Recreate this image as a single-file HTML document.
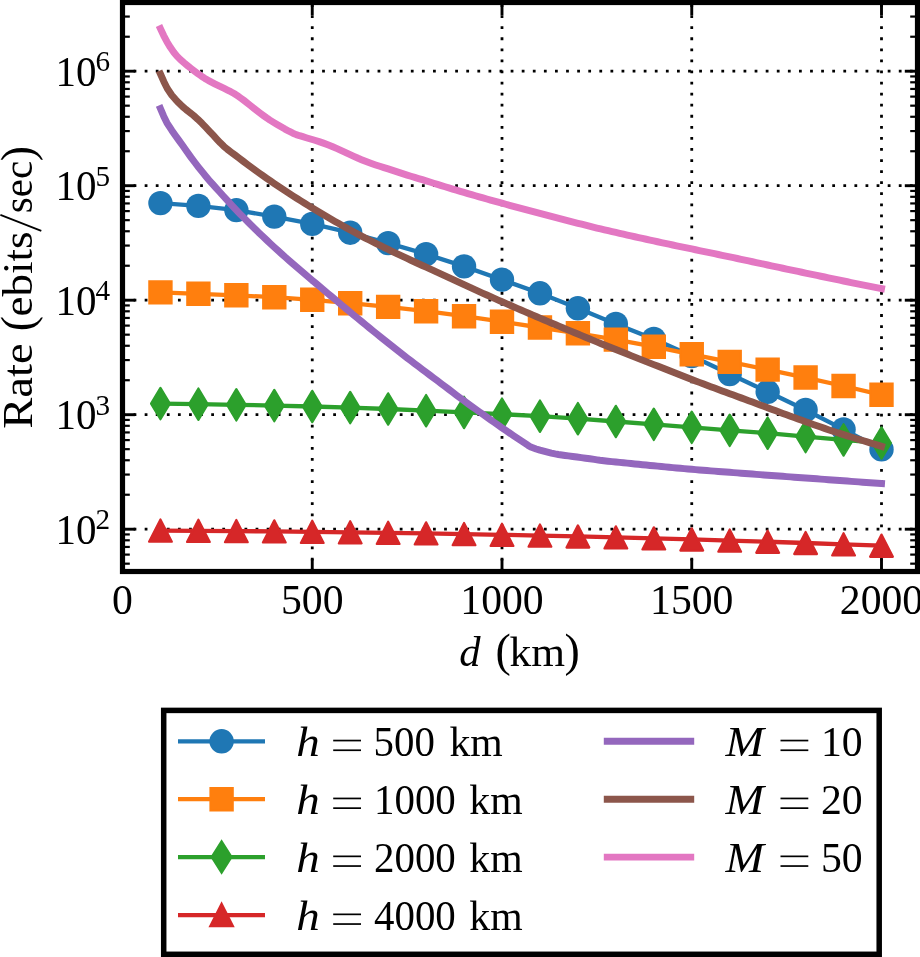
<!DOCTYPE html>
<html><head><meta charset="utf-8"><title>Rate vs distance</title>
<style>html,body{margin:0;padding:0;background:#fff;}svg{display:block;}text{font-family:"Liberation Serif",serif;fill:#000;}</style></head><body>
<svg width="920" height="957" viewBox="0 0 920 957">
<rect width="920" height="957" fill="#fff"/>
<g stroke="#000" stroke-width="2.78" stroke-dasharray="2.77 8.32" fill="none">
<line x1="312.25" y1="571.5" x2="312.25" y2="2.5" stroke-dasharray="2.77 8.30"/>
<line x1="502" y1="571.5" x2="502" y2="2.5" stroke-dasharray="2.77 8.30"/>
<line x1="691.75" y1="571.5" x2="691.75" y2="2.5" stroke-dasharray="2.77 8.30"/>
<line x1="881.5" y1="571.5" x2="881.5" y2="2.5" stroke-dasharray="2.77 8.30"/>
<line x1="122.5" y1="529.2" x2="917.5" y2="529.2"/>
<line x1="122.5" y1="414.7" x2="917.5" y2="414.7"/>
<line x1="122.5" y1="300.2" x2="917.5" y2="300.2"/>
<line x1="122.5" y1="185.7" x2="917.5" y2="185.7"/>
<line x1="122.5" y1="71.2" x2="917.5" y2="71.2"/>
</g>
<defs><clipPath id="ax"><rect x="122.5" y="2.5" width="795" height="569"/></clipPath></defs>
<g clip-path="url(#ax)">
<polyline points="160.45,203.1 198.4,205.9 236.35,210.1 274.3,216.6 312.25,223.9 350.2,232.7 388.15,243.1 426.1,254.1 464.05,266.4 502,279.7 539.95,293.3 577.9,308.3 615.85,323.9 653.8,339 691.75,356 729.7,374 767.65,391.8 805.6,410 843.55,429.4 881.5,449.4" fill="none" stroke="#1f77b4" stroke-width="4.3" stroke-linecap="butt" stroke-linejoin="round"/>
<circle cx="160.45" cy="203.1" r="12.2" fill="#1f77b4"/>
<circle cx="198.4" cy="205.9" r="12.2" fill="#1f77b4"/>
<circle cx="236.35" cy="210.1" r="12.2" fill="#1f77b4"/>
<circle cx="274.3" cy="216.6" r="12.2" fill="#1f77b4"/>
<circle cx="312.25" cy="223.9" r="12.2" fill="#1f77b4"/>
<circle cx="350.2" cy="232.7" r="12.2" fill="#1f77b4"/>
<circle cx="388.15" cy="243.1" r="12.2" fill="#1f77b4"/>
<circle cx="426.1" cy="254.1" r="12.2" fill="#1f77b4"/>
<circle cx="464.05" cy="266.4" r="12.2" fill="#1f77b4"/>
<circle cx="502" cy="279.7" r="12.2" fill="#1f77b4"/>
<circle cx="539.95" cy="293.3" r="12.2" fill="#1f77b4"/>
<circle cx="577.9" cy="308.3" r="12.2" fill="#1f77b4"/>
<circle cx="615.85" cy="323.9" r="12.2" fill="#1f77b4"/>
<circle cx="653.8" cy="339" r="12.2" fill="#1f77b4"/>
<circle cx="691.75" cy="356" r="12.2" fill="#1f77b4"/>
<circle cx="729.7" cy="374" r="12.2" fill="#1f77b4"/>
<circle cx="767.65" cy="391.8" r="12.2" fill="#1f77b4"/>
<circle cx="805.6" cy="410" r="12.2" fill="#1f77b4"/>
<circle cx="843.55" cy="429.4" r="12.2" fill="#1f77b4"/>
<circle cx="881.5" cy="449.4" r="12.2" fill="#1f77b4"/>
<polyline points="160.45,292.4 198.4,293.8 236.35,295.3 274.3,297.2 312.25,299.8 350.2,303.2 388.15,306.9 426.1,311.2 464.05,316.2 502,321.7 539.95,327.5 577.9,333.3 615.85,339.6 653.8,346.7 691.75,354.3 729.7,361.9 767.65,369.65 805.6,377.55 843.55,386 881.5,394.8" fill="none" stroke="#ff7f0e" stroke-width="4.3" stroke-linecap="butt" stroke-linejoin="round"/>
<polygon points="149.35,281.3 171.55,281.3 171.55,303.5 149.35,303.5" fill="#ff7f0e" stroke="#ff7f0e" stroke-width="2.2" stroke-linejoin="miter"/>
<polygon points="187.3,282.7 209.5,282.7 209.5,304.9 187.3,304.9" fill="#ff7f0e" stroke="#ff7f0e" stroke-width="2.2" stroke-linejoin="miter"/>
<polygon points="225.25,284.2 247.45,284.2 247.45,306.4 225.25,306.4" fill="#ff7f0e" stroke="#ff7f0e" stroke-width="2.2" stroke-linejoin="miter"/>
<polygon points="263.2,286.1 285.4,286.1 285.4,308.3 263.2,308.3" fill="#ff7f0e" stroke="#ff7f0e" stroke-width="2.2" stroke-linejoin="miter"/>
<polygon points="301.15,288.7 323.35,288.7 323.35,310.9 301.15,310.9" fill="#ff7f0e" stroke="#ff7f0e" stroke-width="2.2" stroke-linejoin="miter"/>
<polygon points="339.1,292.1 361.3,292.1 361.3,314.3 339.1,314.3" fill="#ff7f0e" stroke="#ff7f0e" stroke-width="2.2" stroke-linejoin="miter"/>
<polygon points="377.05,295.8 399.25,295.8 399.25,318 377.05,318" fill="#ff7f0e" stroke="#ff7f0e" stroke-width="2.2" stroke-linejoin="miter"/>
<polygon points="415,300.1 437.2,300.1 437.2,322.3 415,322.3" fill="#ff7f0e" stroke="#ff7f0e" stroke-width="2.2" stroke-linejoin="miter"/>
<polygon points="452.95,305.1 475.15,305.1 475.15,327.3 452.95,327.3" fill="#ff7f0e" stroke="#ff7f0e" stroke-width="2.2" stroke-linejoin="miter"/>
<polygon points="490.9,310.6 513.1,310.6 513.1,332.8 490.9,332.8" fill="#ff7f0e" stroke="#ff7f0e" stroke-width="2.2" stroke-linejoin="miter"/>
<polygon points="528.85,316.4 551.05,316.4 551.05,338.6 528.85,338.6" fill="#ff7f0e" stroke="#ff7f0e" stroke-width="2.2" stroke-linejoin="miter"/>
<polygon points="566.8,322.2 589,322.2 589,344.4 566.8,344.4" fill="#ff7f0e" stroke="#ff7f0e" stroke-width="2.2" stroke-linejoin="miter"/>
<polygon points="604.75,328.5 626.95,328.5 626.95,350.7 604.75,350.7" fill="#ff7f0e" stroke="#ff7f0e" stroke-width="2.2" stroke-linejoin="miter"/>
<polygon points="642.7,335.6 664.9,335.6 664.9,357.8 642.7,357.8" fill="#ff7f0e" stroke="#ff7f0e" stroke-width="2.2" stroke-linejoin="miter"/>
<polygon points="680.65,343.2 702.85,343.2 702.85,365.4 680.65,365.4" fill="#ff7f0e" stroke="#ff7f0e" stroke-width="2.2" stroke-linejoin="miter"/>
<polygon points="718.6,350.8 740.8,350.8 740.8,373 718.6,373" fill="#ff7f0e" stroke="#ff7f0e" stroke-width="2.2" stroke-linejoin="miter"/>
<polygon points="756.55,358.55 778.75,358.55 778.75,380.75 756.55,380.75" fill="#ff7f0e" stroke="#ff7f0e" stroke-width="2.2" stroke-linejoin="miter"/>
<polygon points="794.5,366.45 816.7,366.45 816.7,388.65 794.5,388.65" fill="#ff7f0e" stroke="#ff7f0e" stroke-width="2.2" stroke-linejoin="miter"/>
<polygon points="832.45,374.9 854.65,374.9 854.65,397.1 832.45,397.1" fill="#ff7f0e" stroke="#ff7f0e" stroke-width="2.2" stroke-linejoin="miter"/>
<polygon points="870.4,383.7 892.6,383.7 892.6,405.9 870.4,405.9" fill="#ff7f0e" stroke="#ff7f0e" stroke-width="2.2" stroke-linejoin="miter"/>
<polyline points="160.45,403.6 198.4,404.2 236.35,404.8 274.3,405.6 312.25,406.5 350.2,407.6 388.15,409 426.1,410.7 464.05,412.4 502,414.2 539.95,416.2 577.9,418.7 615.85,421.5 653.8,424.3 691.75,427.3 729.7,430.3 767.65,433.2 805.6,436.55 843.55,439.9 881.5,443" fill="none" stroke="#2ca02c" stroke-width="4.3" stroke-linecap="butt" stroke-linejoin="round"/>
<polygon points="160.45,387.9 169.87,403.6 160.45,419.3 151.03,403.6" fill="#2ca02c" stroke="#2ca02c" stroke-width="2.2" stroke-linejoin="round"/>
<polygon points="198.4,388.5 207.82,404.2 198.4,419.9 188.98,404.2" fill="#2ca02c" stroke="#2ca02c" stroke-width="2.2" stroke-linejoin="round"/>
<polygon points="236.35,389.1 245.77,404.8 236.35,420.5 226.93,404.8" fill="#2ca02c" stroke="#2ca02c" stroke-width="2.2" stroke-linejoin="round"/>
<polygon points="274.3,389.9 283.72,405.6 274.3,421.3 264.88,405.6" fill="#2ca02c" stroke="#2ca02c" stroke-width="2.2" stroke-linejoin="round"/>
<polygon points="312.25,390.8 321.67,406.5 312.25,422.2 302.83,406.5" fill="#2ca02c" stroke="#2ca02c" stroke-width="2.2" stroke-linejoin="round"/>
<polygon points="350.2,391.9 359.62,407.6 350.2,423.3 340.78,407.6" fill="#2ca02c" stroke="#2ca02c" stroke-width="2.2" stroke-linejoin="round"/>
<polygon points="388.15,393.3 397.57,409 388.15,424.7 378.73,409" fill="#2ca02c" stroke="#2ca02c" stroke-width="2.2" stroke-linejoin="round"/>
<polygon points="426.1,395 435.52,410.7 426.1,426.4 416.68,410.7" fill="#2ca02c" stroke="#2ca02c" stroke-width="2.2" stroke-linejoin="round"/>
<polygon points="464.05,396.7 473.47,412.4 464.05,428.1 454.63,412.4" fill="#2ca02c" stroke="#2ca02c" stroke-width="2.2" stroke-linejoin="round"/>
<polygon points="502,398.5 511.42,414.2 502,429.9 492.58,414.2" fill="#2ca02c" stroke="#2ca02c" stroke-width="2.2" stroke-linejoin="round"/>
<polygon points="539.95,400.5 549.37,416.2 539.95,431.9 530.53,416.2" fill="#2ca02c" stroke="#2ca02c" stroke-width="2.2" stroke-linejoin="round"/>
<polygon points="577.9,403 587.32,418.7 577.9,434.4 568.48,418.7" fill="#2ca02c" stroke="#2ca02c" stroke-width="2.2" stroke-linejoin="round"/>
<polygon points="615.85,405.8 625.27,421.5 615.85,437.2 606.43,421.5" fill="#2ca02c" stroke="#2ca02c" stroke-width="2.2" stroke-linejoin="round"/>
<polygon points="653.8,408.6 663.22,424.3 653.8,440 644.38,424.3" fill="#2ca02c" stroke="#2ca02c" stroke-width="2.2" stroke-linejoin="round"/>
<polygon points="691.75,411.6 701.17,427.3 691.75,443 682.33,427.3" fill="#2ca02c" stroke="#2ca02c" stroke-width="2.2" stroke-linejoin="round"/>
<polygon points="729.7,414.6 739.12,430.3 729.7,446 720.28,430.3" fill="#2ca02c" stroke="#2ca02c" stroke-width="2.2" stroke-linejoin="round"/>
<polygon points="767.65,417.5 777.07,433.2 767.65,448.9 758.23,433.2" fill="#2ca02c" stroke="#2ca02c" stroke-width="2.2" stroke-linejoin="round"/>
<polygon points="805.6,420.85 815.02,436.55 805.6,452.25 796.18,436.55" fill="#2ca02c" stroke="#2ca02c" stroke-width="2.2" stroke-linejoin="round"/>
<polygon points="843.55,424.2 852.97,439.9 843.55,455.6 834.13,439.9" fill="#2ca02c" stroke="#2ca02c" stroke-width="2.2" stroke-linejoin="round"/>
<polygon points="881.5,427.3 890.92,443 881.5,458.7 872.08,443" fill="#2ca02c" stroke="#2ca02c" stroke-width="2.2" stroke-linejoin="round"/>
<polyline points="160.45,530.59 198.4,530.8 236.35,531.08 274.3,531.42 312.25,531.82 350.2,532.29 388.15,532.82 426.1,533.42 464.05,534.09 502,534.81 539.95,535.61 577.9,536.47 615.85,537.39 653.8,538.38 691.75,539.44 729.7,540.56 767.65,541.75 805.6,543 843.55,544.31 881.5,545.69" fill="none" stroke="#d62728" stroke-width="4.3" stroke-linecap="butt" stroke-linejoin="round"/>
<polygon points="160.45,519.49 171.85,541.69 149.05,541.69" fill="#d62728" stroke="#d62728" stroke-width="2.2" stroke-linejoin="round"/>
<polygon points="198.4,519.7 209.8,541.9 187,541.9" fill="#d62728" stroke="#d62728" stroke-width="2.2" stroke-linejoin="round"/>
<polygon points="236.35,519.98 247.75,542.18 224.95,542.18" fill="#d62728" stroke="#d62728" stroke-width="2.2" stroke-linejoin="round"/>
<polygon points="274.3,520.32 285.7,542.52 262.9,542.52" fill="#d62728" stroke="#d62728" stroke-width="2.2" stroke-linejoin="round"/>
<polygon points="312.25,520.72 323.65,542.92 300.85,542.92" fill="#d62728" stroke="#d62728" stroke-width="2.2" stroke-linejoin="round"/>
<polygon points="350.2,521.19 361.6,543.39 338.8,543.39" fill="#d62728" stroke="#d62728" stroke-width="2.2" stroke-linejoin="round"/>
<polygon points="388.15,521.72 399.55,543.92 376.75,543.92" fill="#d62728" stroke="#d62728" stroke-width="2.2" stroke-linejoin="round"/>
<polygon points="426.1,522.32 437.5,544.52 414.7,544.52" fill="#d62728" stroke="#d62728" stroke-width="2.2" stroke-linejoin="round"/>
<polygon points="464.05,522.99 475.45,545.19 452.65,545.19" fill="#d62728" stroke="#d62728" stroke-width="2.2" stroke-linejoin="round"/>
<polygon points="502,523.71 513.4,545.91 490.6,545.91" fill="#d62728" stroke="#d62728" stroke-width="2.2" stroke-linejoin="round"/>
<polygon points="539.95,524.51 551.35,546.71 528.55,546.71" fill="#d62728" stroke="#d62728" stroke-width="2.2" stroke-linejoin="round"/>
<polygon points="577.9,525.37 589.3,547.57 566.5,547.57" fill="#d62728" stroke="#d62728" stroke-width="2.2" stroke-linejoin="round"/>
<polygon points="615.85,526.29 627.25,548.49 604.45,548.49" fill="#d62728" stroke="#d62728" stroke-width="2.2" stroke-linejoin="round"/>
<polygon points="653.8,527.28 665.2,549.48 642.4,549.48" fill="#d62728" stroke="#d62728" stroke-width="2.2" stroke-linejoin="round"/>
<polygon points="691.75,528.34 703.15,550.54 680.35,550.54" fill="#d62728" stroke="#d62728" stroke-width="2.2" stroke-linejoin="round"/>
<polygon points="729.7,529.46 741.1,551.66 718.3,551.66" fill="#d62728" stroke="#d62728" stroke-width="2.2" stroke-linejoin="round"/>
<polygon points="767.65,530.65 779.05,552.85 756.25,552.85" fill="#d62728" stroke="#d62728" stroke-width="2.2" stroke-linejoin="round"/>
<polygon points="805.6,531.9 817,554.1 794.2,554.1" fill="#d62728" stroke="#d62728" stroke-width="2.2" stroke-linejoin="round"/>
<polygon points="843.55,533.21 854.95,555.41 832.15,555.41" fill="#d62728" stroke="#d62728" stroke-width="2.2" stroke-linejoin="round"/>
<polygon points="881.5,534.59 892.9,556.79 870.1,556.79" fill="#d62728" stroke="#d62728" stroke-width="2.2" stroke-linejoin="round"/>
<polyline points="160.45,108.6 163.68,116.16 166.9,122.8 171.84,130.4 175.38,135.43 178.92,140.36 182.46,145.3 186.83,151.54 191.19,157.6 194.89,162.48 198.59,167.27 202.29,171.95 205.99,176.5 209.31,180.41 212.63,184.17 215.95,187.84 219.27,191.5 223.54,196.22 227.81,200.92 232.08,205.56 236.35,210.1 240.14,214.04 243.94,217.92 247.74,221.75 251.53,225.53 255.32,229.26 259.12,232.94 262.91,236.56 266.71,240.14 270.5,243.68 274.3,247.19 278.1,250.66 281.89,254.09 285.69,257.49 289.48,260.86 293.27,264.19 297.07,267.47 300.87,270.71 304.66,273.92 308.46,277.11 312.25,280.31 316.05,283.52 319.84,286.71 323.63,289.9 327.43,293.09 331.23,296.27 335.02,299.46 338.81,302.65 342.61,305.84 346.4,309.01 350.2,312.17 354,315.31 357.79,318.44 361.59,321.55 365.38,324.65 369.18,327.75 372.97,330.83 376.76,333.91 380.56,336.97 384.36,340.01 388.15,343.04 391.94,346.05 395.74,349.05 399.54,352.03 403.33,354.99 407.12,357.92 410.92,360.83 414.71,363.7 418.51,366.56 422.31,369.41 426.1,372.27 429.89,375.13 433.69,377.98 437.49,380.83 441.28,383.68 445.07,386.54 448.87,389.4 452.67,392.28 456.46,395.16 460.25,398.01 464.05,400.82 467.85,403.59 471.64,406.31 475.44,409.02 479.23,411.71 483.02,414.4 486.82,417.1 490.62,419.8 494.41,422.49 498.2,425.16 502,427.83 505.8,430.44 509.59,433 513.38,435.53 517.18,438.05 520.98,440.58 524.77,443.1 527.81,445.21 530.84,447.1 536.15,449 539.95,450.16 543.75,451.2 547.54,452.17 551.34,453.1 555.13,453.9 558.45,454.48 561.77,454.98 565.09,455.44 568.41,455.9 572.71,456.48 577.01,457.04 581.32,457.6 585.62,458.19 589.92,458.79 594.22,459.4 597.06,459.87 599.91,460.3 603.9,460.76 607.88,461.19 611.87,461.6 615.85,462 619.64,462.39 623.44,462.77 627.24,463.16 631.03,463.54 634.83,463.93 638.62,464.31 642.41,464.69 646.21,465.06 650,465.43 653.8,465.8 657.6,466.16 661.39,466.53 665.19,466.89 668.98,467.25 672.77,467.6 676.57,467.95 680.37,468.3 684.16,468.64 687.96,468.97 691.75,469.3 695.54,469.62 699.34,469.93 703.13,470.24 706.93,470.54 710.73,470.84 714.52,471.13 718.32,471.42 722.11,471.71 725.9,472.01 729.7,472.3 733.5,472.59 737.29,472.89 741.09,473.18 744.88,473.47 748.67,473.76 752.47,474.05 756.26,474.34 760.06,474.63 763.86,474.91 767.65,475.2 771.45,475.48 775.24,475.77 779.03,476.05 782.83,476.33 786.62,476.61 790.42,476.88 794.22,477.16 798.01,477.44 801.81,477.72 805.6,478 809.39,478.28 813.19,478.56 816.99,478.84 820.78,479.12 824.58,479.41 828.37,479.69 832.16,479.97 835.96,480.25 839.75,480.52 843.55,480.8 847.35,481.07 851.14,481.35 854.94,481.62 858.73,481.89 862.52,482.16 866.32,482.42 870.12,482.69 873.91,482.96 877.71,483.23 881.5,483.5" fill="none" stroke="#9467bd" stroke-width="6.95" stroke-linecap="square" stroke-linejoin="round"/>
<polyline points="160.45,74 163.87,81.69 167.28,88.5 171.84,95.2 175.38,99.26 178.92,103.03 182.46,106.5 186.13,109.62 189.8,112.44 193.47,115.4 197.83,119.35 202.19,123.6 205.86,127.39 209.53,131.3 213.2,135.2 216.74,139.01 220.28,142.81 223.83,146.3 227.5,149.39 231.16,152.17 234.83,154.9 238.93,158.02 243.03,161.14 247.13,164.23 251.23,167.29 255.32,170.29 259.12,173.02 262.91,175.7 266.71,178.35 270.5,180.96 274.3,183.55 278.1,186.11 281.89,188.64 285.69,191.15 289.48,193.62 293.27,196.07 297.07,198.49 300.87,200.89 304.66,203.26 308.46,205.6 312.25,207.93 316.05,210.23 319.84,212.52 323.63,214.78 327.43,217.02 331.23,219.24 335.02,221.43 338.81,223.6 342.61,225.75 346.4,227.87 350.2,229.96 354,232.03 357.79,234.07 361.59,236.08 365.38,238.07 369.18,240.03 372.97,241.96 376.76,243.86 380.56,245.73 384.36,247.58 388.15,249.43 391.94,251.26 395.74,253.08 399.54,254.89 403.33,256.68 407.12,258.46 410.92,260.23 414.71,261.99 418.51,263.73 422.31,265.47 426.1,267.21 429.89,268.95 433.69,270.68 437.49,272.4 441.28,274.13 445.07,275.87 448.87,277.63 452.67,279.39 456.46,281.15 460.25,282.91 464.05,284.66 467.85,286.4 471.64,288.14 475.44,289.87 479.23,291.59 483.02,293.3 486.82,295 490.62,296.69 494.41,298.38 498.2,300.06 502,301.73 505.8,303.39 509.59,305.05 513.38,306.71 517.18,308.35 520.98,310 524.77,311.63 528.57,313.26 532.36,314.89 536.15,316.51 539.95,318.13 543.75,319.74 547.54,321.35 551.34,322.96 555.13,324.55 558.92,326.15 562.72,327.74 566.51,329.33 570.31,330.91 574.11,332.49 577.9,334.07 581.69,335.65 585.49,337.22 589.29,338.79 593.08,340.35 596.88,341.91 600.67,343.45 604.47,344.99 608.26,346.52 612.06,348.04 615.85,349.57 619.64,351.08 623.44,352.6 627.24,354.1 631.03,355.61 634.83,357.12 638.62,358.62 642.41,360.12 646.21,361.62 650,363.12 653.8,364.62 657.6,366.11 661.39,367.6 665.19,369.09 668.98,370.58 672.77,372.06 676.57,373.55 680.37,375.03 684.16,376.51 687.96,377.98 691.75,379.45 695.54,380.91 699.34,382.37 703.13,383.82 706.93,385.26 710.73,386.69 714.52,388.11 718.32,389.51 722.11,390.91 725.9,392.3 729.7,393.7 733.5,395.09 737.29,396.49 741.09,397.88 744.88,399.27 748.67,400.68 752.47,402.09 756.26,403.51 760.06,404.94 763.86,406.36 767.65,407.77 771.45,409.18 775.24,410.59 779.03,412 782.83,413.39 786.62,414.79 790.42,416.18 794.22,417.57 798.01,418.95 801.81,420.32 805.6,421.69 809.39,423.05 813.19,424.4 816.99,425.75 820.78,427.08 824.58,428.39 828.37,429.68 832.16,430.94 835.96,432.2 839.75,433.43 843.55,434.65 847.35,435.86 851.14,437.04 854.94,438.21 858.73,439.37 862.52,440.53 866.32,441.69 870.12,442.85 873.91,444 877.71,445.15 881.5,446.3" fill="none" stroke="#8c564b" stroke-width="6.95" stroke-linecap="square" stroke-linejoin="round"/>
<polyline points="160.45,28.6 163.68,35.56 166.9,41.7 170.32,47.33 173.73,52.2 176.96,56.14 180.18,59.4 183.88,62.65 187.58,65.71 191.28,68.64 194.98,71.5 198.27,73.96 201.56,76.26 204.85,78.4 208.14,80.33 211.43,82.1 214.72,83.8 219.46,86.12 224.21,88.4 227.5,90.01 230.78,91.66 234.07,93.5 237.36,95.63 240.65,97.97 243.94,100.4 247.23,102.94 250.52,105.59 253.81,108.2 257.03,110.72 260.26,113.21 263.48,115.6 266.71,117.89 269.94,120.07 273.16,122.1 277.11,124.47 281.06,126.81 285,129.08 288.95,131.23 292.9,133.2 296.22,134.59 299.54,135.7 302.86,136.69 306.18,137.7 310.48,139 314.78,140.25 319.08,141.6 323.45,143.13 327.81,144.76 332.17,146.5 336.54,148.39 340.9,150.39 345.27,152.4 349.57,154.39 353.87,156.39 358.17,158.3 361.49,159.68 364.81,161.02 368.13,162.29 371.45,163.5 375.63,164.92 379.8,166.27 383.98,167.58 388.15,168.92 391.94,170.16 395.74,171.4 399.54,172.65 403.33,173.88 407.12,175.09 410.92,176.26 414.71,177.41 418.51,178.55 422.31,179.69 426.1,180.84 429.89,182.02 433.69,183.22 437.49,184.41 441.28,185.6 445.07,186.77 448.87,187.93 452.67,189.07 456.46,190.2 460.25,191.32 464.05,192.44 467.85,193.55 471.64,194.66 475.44,195.75 479.23,196.84 483.02,197.92 486.82,199 490.62,200.07 494.41,201.13 498.2,202.18 502,203.22 505.8,204.26 509.59,205.28 513.38,206.3 517.18,207.32 520.98,208.34 524.77,209.36 528.57,210.39 532.36,211.41 536.15,212.43 539.95,213.44 543.75,214.44 547.54,215.43 551.34,216.42 555.13,217.4 558.92,218.39 562.72,219.37 566.51,220.35 570.31,221.33 574.11,222.3 577.9,223.27 581.69,224.23 585.49,225.19 589.29,226.14 593.08,227.08 596.88,228.01 600.67,228.92 604.47,229.82 608.26,230.71 612.06,231.59 615.85,232.46 619.64,233.33 623.44,234.19 627.24,235.05 631.03,235.9 634.83,236.74 638.62,237.58 642.41,238.42 646.21,239.26 650,240.09 653.8,240.91 657.6,241.74 661.39,242.56 665.19,243.38 668.98,244.2 672.77,245.01 676.57,245.81 680.37,246.6 684.16,247.39 687.96,248.18 691.75,248.97 695.54,249.75 699.34,250.54 703.13,251.33 706.93,252.12 710.73,252.91 714.52,253.7 718.32,254.5 722.11,255.3 725.9,256.09 729.7,256.9 733.5,257.7 737.29,258.52 741.09,259.33 744.88,260.15 748.67,260.96 752.47,261.77 756.26,262.58 760.06,263.39 763.86,264.2 767.65,265.01 771.45,265.82 775.24,266.63 779.03,267.43 782.83,268.24 786.62,269.04 790.42,269.84 794.22,270.64 798.01,271.44 801.81,272.24 805.6,273.04 809.39,273.84 813.19,274.64 816.99,275.43 820.78,276.23 824.58,277.02 828.37,277.82 832.16,278.61 835.96,279.4 839.75,280.19 843.55,280.98 847.35,281.77 851.14,282.56 854.94,283.35 858.73,284.13 862.52,284.89 866.32,285.65 870.12,286.39 873.91,287.13 877.71,287.86 881.5,288.6" fill="none" stroke="#e377c2" stroke-width="6.95" stroke-linecap="square" stroke-linejoin="round"/>
</g>
<g stroke="#000" fill="none">
<line x1="122.5" y1="571.5" x2="122.5" y2="558.8" stroke-width="2.9"/>
<line x1="122.5" y1="2.5" x2="122.5" y2="15.2" stroke-width="2.9"/>
<line x1="312.25" y1="571.5" x2="312.25" y2="558.8" stroke-width="2.9"/>
<line x1="312.25" y1="2.5" x2="312.25" y2="15.2" stroke-width="2.9"/>
<line x1="502" y1="571.5" x2="502" y2="558.8" stroke-width="2.9"/>
<line x1="502" y1="2.5" x2="502" y2="15.2" stroke-width="2.9"/>
<line x1="691.75" y1="571.5" x2="691.75" y2="558.8" stroke-width="2.9"/>
<line x1="691.75" y1="2.5" x2="691.75" y2="15.2" stroke-width="2.9"/>
<line x1="881.5" y1="571.5" x2="881.5" y2="558.8" stroke-width="2.9"/>
<line x1="881.5" y1="2.5" x2="881.5" y2="15.2" stroke-width="2.9"/>
<line x1="122.5" y1="563.67" x2="129.8" y2="563.67" stroke-width="2.2"/>
<line x1="917.5" y1="563.67" x2="910.2" y2="563.67" stroke-width="2.2"/>
<line x1="122.5" y1="554.6" x2="129.8" y2="554.6" stroke-width="2.2"/>
<line x1="917.5" y1="554.6" x2="910.2" y2="554.6" stroke-width="2.2"/>
<line x1="122.5" y1="546.94" x2="129.8" y2="546.94" stroke-width="2.2"/>
<line x1="917.5" y1="546.94" x2="910.2" y2="546.94" stroke-width="2.2"/>
<line x1="122.5" y1="540.3" x2="129.8" y2="540.3" stroke-width="2.2"/>
<line x1="917.5" y1="540.3" x2="910.2" y2="540.3" stroke-width="2.2"/>
<line x1="122.5" y1="534.44" x2="129.8" y2="534.44" stroke-width="2.2"/>
<line x1="917.5" y1="534.44" x2="910.2" y2="534.44" stroke-width="2.2"/>
<line x1="122.5" y1="529.2" x2="135.2" y2="529.2" stroke-width="2.9"/>
<line x1="917.5" y1="529.2" x2="904.8" y2="529.2" stroke-width="2.9"/>
<line x1="122.5" y1="494.73" x2="129.8" y2="494.73" stroke-width="2.2"/>
<line x1="917.5" y1="494.73" x2="910.2" y2="494.73" stroke-width="2.2"/>
<line x1="122.5" y1="474.57" x2="129.8" y2="474.57" stroke-width="2.2"/>
<line x1="917.5" y1="474.57" x2="910.2" y2="474.57" stroke-width="2.2"/>
<line x1="122.5" y1="460.26" x2="129.8" y2="460.26" stroke-width="2.2"/>
<line x1="917.5" y1="460.26" x2="910.2" y2="460.26" stroke-width="2.2"/>
<line x1="122.5" y1="449.17" x2="129.8" y2="449.17" stroke-width="2.2"/>
<line x1="917.5" y1="449.17" x2="910.2" y2="449.17" stroke-width="2.2"/>
<line x1="122.5" y1="440.1" x2="129.8" y2="440.1" stroke-width="2.2"/>
<line x1="917.5" y1="440.1" x2="910.2" y2="440.1" stroke-width="2.2"/>
<line x1="122.5" y1="432.44" x2="129.8" y2="432.44" stroke-width="2.2"/>
<line x1="917.5" y1="432.44" x2="910.2" y2="432.44" stroke-width="2.2"/>
<line x1="122.5" y1="425.8" x2="129.8" y2="425.8" stroke-width="2.2"/>
<line x1="917.5" y1="425.8" x2="910.2" y2="425.8" stroke-width="2.2"/>
<line x1="122.5" y1="419.94" x2="129.8" y2="419.94" stroke-width="2.2"/>
<line x1="917.5" y1="419.94" x2="910.2" y2="419.94" stroke-width="2.2"/>
<line x1="122.5" y1="414.7" x2="135.2" y2="414.7" stroke-width="2.9"/>
<line x1="917.5" y1="414.7" x2="904.8" y2="414.7" stroke-width="2.9"/>
<line x1="122.5" y1="380.23" x2="129.8" y2="380.23" stroke-width="2.2"/>
<line x1="917.5" y1="380.23" x2="910.2" y2="380.23" stroke-width="2.2"/>
<line x1="122.5" y1="360.07" x2="129.8" y2="360.07" stroke-width="2.2"/>
<line x1="917.5" y1="360.07" x2="910.2" y2="360.07" stroke-width="2.2"/>
<line x1="122.5" y1="345.76" x2="129.8" y2="345.76" stroke-width="2.2"/>
<line x1="917.5" y1="345.76" x2="910.2" y2="345.76" stroke-width="2.2"/>
<line x1="122.5" y1="334.67" x2="129.8" y2="334.67" stroke-width="2.2"/>
<line x1="917.5" y1="334.67" x2="910.2" y2="334.67" stroke-width="2.2"/>
<line x1="122.5" y1="325.6" x2="129.8" y2="325.6" stroke-width="2.2"/>
<line x1="917.5" y1="325.6" x2="910.2" y2="325.6" stroke-width="2.2"/>
<line x1="122.5" y1="317.94" x2="129.8" y2="317.94" stroke-width="2.2"/>
<line x1="917.5" y1="317.94" x2="910.2" y2="317.94" stroke-width="2.2"/>
<line x1="122.5" y1="311.3" x2="129.8" y2="311.3" stroke-width="2.2"/>
<line x1="917.5" y1="311.3" x2="910.2" y2="311.3" stroke-width="2.2"/>
<line x1="122.5" y1="305.44" x2="129.8" y2="305.44" stroke-width="2.2"/>
<line x1="917.5" y1="305.44" x2="910.2" y2="305.44" stroke-width="2.2"/>
<line x1="122.5" y1="300.2" x2="135.2" y2="300.2" stroke-width="2.9"/>
<line x1="917.5" y1="300.2" x2="904.8" y2="300.2" stroke-width="2.9"/>
<line x1="122.5" y1="265.73" x2="129.8" y2="265.73" stroke-width="2.2"/>
<line x1="917.5" y1="265.73" x2="910.2" y2="265.73" stroke-width="2.2"/>
<line x1="122.5" y1="245.57" x2="129.8" y2="245.57" stroke-width="2.2"/>
<line x1="917.5" y1="245.57" x2="910.2" y2="245.57" stroke-width="2.2"/>
<line x1="122.5" y1="231.26" x2="129.8" y2="231.26" stroke-width="2.2"/>
<line x1="917.5" y1="231.26" x2="910.2" y2="231.26" stroke-width="2.2"/>
<line x1="122.5" y1="220.17" x2="129.8" y2="220.17" stroke-width="2.2"/>
<line x1="917.5" y1="220.17" x2="910.2" y2="220.17" stroke-width="2.2"/>
<line x1="122.5" y1="211.1" x2="129.8" y2="211.1" stroke-width="2.2"/>
<line x1="917.5" y1="211.1" x2="910.2" y2="211.1" stroke-width="2.2"/>
<line x1="122.5" y1="203.44" x2="129.8" y2="203.44" stroke-width="2.2"/>
<line x1="917.5" y1="203.44" x2="910.2" y2="203.44" stroke-width="2.2"/>
<line x1="122.5" y1="196.8" x2="129.8" y2="196.8" stroke-width="2.2"/>
<line x1="917.5" y1="196.8" x2="910.2" y2="196.8" stroke-width="2.2"/>
<line x1="122.5" y1="190.94" x2="129.8" y2="190.94" stroke-width="2.2"/>
<line x1="917.5" y1="190.94" x2="910.2" y2="190.94" stroke-width="2.2"/>
<line x1="122.5" y1="185.7" x2="135.2" y2="185.7" stroke-width="2.9"/>
<line x1="917.5" y1="185.7" x2="904.8" y2="185.7" stroke-width="2.9"/>
<line x1="122.5" y1="151.23" x2="129.8" y2="151.23" stroke-width="2.2"/>
<line x1="917.5" y1="151.23" x2="910.2" y2="151.23" stroke-width="2.2"/>
<line x1="122.5" y1="131.07" x2="129.8" y2="131.07" stroke-width="2.2"/>
<line x1="917.5" y1="131.07" x2="910.2" y2="131.07" stroke-width="2.2"/>
<line x1="122.5" y1="116.76" x2="129.8" y2="116.76" stroke-width="2.2"/>
<line x1="917.5" y1="116.76" x2="910.2" y2="116.76" stroke-width="2.2"/>
<line x1="122.5" y1="105.67" x2="129.8" y2="105.67" stroke-width="2.2"/>
<line x1="917.5" y1="105.67" x2="910.2" y2="105.67" stroke-width="2.2"/>
<line x1="122.5" y1="96.6" x2="129.8" y2="96.6" stroke-width="2.2"/>
<line x1="917.5" y1="96.6" x2="910.2" y2="96.6" stroke-width="2.2"/>
<line x1="122.5" y1="88.94" x2="129.8" y2="88.94" stroke-width="2.2"/>
<line x1="917.5" y1="88.94" x2="910.2" y2="88.94" stroke-width="2.2"/>
<line x1="122.5" y1="82.3" x2="129.8" y2="82.3" stroke-width="2.2"/>
<line x1="917.5" y1="82.3" x2="910.2" y2="82.3" stroke-width="2.2"/>
<line x1="122.5" y1="76.44" x2="129.8" y2="76.44" stroke-width="2.2"/>
<line x1="917.5" y1="76.44" x2="910.2" y2="76.44" stroke-width="2.2"/>
<line x1="122.5" y1="71.2" x2="135.2" y2="71.2" stroke-width="2.9"/>
<line x1="917.5" y1="71.2" x2="904.8" y2="71.2" stroke-width="2.9"/>
<line x1="122.5" y1="36.73" x2="129.8" y2="36.73" stroke-width="2.2"/>
<line x1="917.5" y1="36.73" x2="910.2" y2="36.73" stroke-width="2.2"/>
<line x1="122.5" y1="16.57" x2="129.8" y2="16.57" stroke-width="2.2"/>
<line x1="917.5" y1="16.57" x2="910.2" y2="16.57" stroke-width="2.2"/>
</g>
<rect x="122.5" y="2.5" width="795" height="569" fill="none" stroke="#000" stroke-width="5.2"/>
<defs><filter id="gs" x="0" y="0" width="100%" height="100%" filterUnits="userSpaceOnUse" color-interpolation-filters="sRGB"><feOffset dx="0" dy="0"/></filter></defs>
<g filter="url(#gs)">
<text x="55.5" y="543.9" font-size="41.7" textLength="41" lengthAdjust="spacingAndGlyphs">10</text>
<text x="95.6" y="529" font-size="29.2">2</text>
<text x="55.5" y="429.4" font-size="41.7" textLength="41" lengthAdjust="spacingAndGlyphs">10</text>
<text x="95.6" y="414.5" font-size="29.2">3</text>
<text x="55.5" y="314.9" font-size="41.7" textLength="41" lengthAdjust="spacingAndGlyphs">10</text>
<text x="95.6" y="300" font-size="29.2">4</text>
<text x="55.5" y="200.4" font-size="41.7" textLength="41" lengthAdjust="spacingAndGlyphs">10</text>
<text x="95.6" y="185.5" font-size="29.2">5</text>
<text x="55.5" y="85.9" font-size="41.7" textLength="41" lengthAdjust="spacingAndGlyphs">10</text>
<text x="95.6" y="71" font-size="29.2">6</text>
<text x="122.5" y="613.8" font-size="41.7" text-anchor="middle">0</text>
<text x="312.25" y="613.8" font-size="41.7" text-anchor="middle">500</text>
<text x="502" y="613.8" font-size="41.7" text-anchor="middle">1000</text>
<text x="691.75" y="613.8" font-size="41.7" text-anchor="middle">1500</text>
<text x="881.5" y="613.8" font-size="41.7" text-anchor="middle">2000</text>
<text x="459.3" y="666.3" font-size="41.7" font-style="italic" textLength="21.3" lengthAdjust="spacingAndGlyphs">d</text>
<text x="495.4" y="665.8" font-size="45.9">(</text>
<text x="509.5" y="666.3" font-size="41.7" textLength="55.5" lengthAdjust="spacingAndGlyphs">km</text>
<text x="564.4" y="665.8" font-size="45.9">)</text>
<text transform="translate(31.7,428.8) rotate(-90)" font-size="41.7" textLength="85.5" lengthAdjust="spacingAndGlyphs">Rate</text>
<text transform="translate(33.2,331.3) rotate(-90)" font-size="45.9">(</text>
<text transform="translate(31.7,316.5) rotate(-90)" font-size="41.7" textLength="85" lengthAdjust="spacingAndGlyphs">ebits</text>
<line x1="41.3" y1="230.9" x2="0.4" y2="214.9" stroke="#000" stroke-width="1.7"/>
<text transform="translate(31.7,213.3) rotate(-90)" font-size="41.7" textLength="52.5" lengthAdjust="spacingAndGlyphs">sec</text>
<text transform="translate(33.2,161.3) rotate(-90)" font-size="45.9">)</text>
</g>
<rect x="163.7" y="710.4" width="715.5" height="243.9" fill="#fff" stroke="#000" stroke-width="5.5"/>
<polyline points="178,741.3 265,741.3" fill="none" stroke="#1f77b4" stroke-width="4.3" stroke-linecap="butt" stroke-linejoin="round"/>
<circle cx="221.6" cy="741.3" r="12.2" fill="#1f77b4"/>
<polyline points="178,799.2 265,799.2" fill="none" stroke="#ff7f0e" stroke-width="4.3" stroke-linecap="butt" stroke-linejoin="round"/>
<polygon points="210.5,788.1 232.7,788.1 232.7,810.3 210.5,810.3" fill="#ff7f0e" stroke="#ff7f0e" stroke-width="2.2" stroke-linejoin="miter"/>
<polyline points="178,857.1 265,857.1" fill="none" stroke="#2ca02c" stroke-width="4.3" stroke-linecap="butt" stroke-linejoin="round"/>
<polygon points="221.6,841.4 231.52,857.1 221.6,872.8 211.68,857.1" fill="#2ca02c" stroke="#2ca02c" stroke-width="2.2" stroke-linejoin="miter"/>
<polyline points="178,915.1 265,915.1" fill="none" stroke="#d62728" stroke-width="4.3" stroke-linecap="butt" stroke-linejoin="round"/>
<polygon points="221.6,903.65 232.95,926.2 210.25,926.2" fill="#d62728" stroke="#d62728" stroke-width="2.2" stroke-linejoin="miter"/>
<polyline points="603.8,741.3 694.2,741.3" fill="none" stroke="#9467bd" stroke-width="6.95" stroke-linecap="butt" stroke-linejoin="round"/>
<polyline points="603.8,799.2 694.2,799.2" fill="none" stroke="#8c564b" stroke-width="6.95" stroke-linecap="butt" stroke-linejoin="round"/>
<polyline points="603.8,857.1 694.2,857.1" fill="none" stroke="#e377c2" stroke-width="6.95" stroke-linecap="butt" stroke-linejoin="round"/>
<g filter="url(#gs)">
<text x="296.3" y="756.2" font-size="41.7" font-style="italic" textLength="23.5" lengthAdjust="spacingAndGlyphs">h</text>
<rect x="333.2" y="739.7" width="27.8" height="1.7" fill="#000"/>
<rect x="333.2" y="749.4" width="27.8" height="1.7" fill="#000"/>
<text x="373.6" y="756.2" font-size="41.7" textLength="61.3" lengthAdjust="spacingAndGlyphs">500</text>
<text x="449.5" y="756.2" font-size="41.7">km</text>
<text x="296.3" y="814.1" font-size="41.7" font-style="italic" textLength="23.5" lengthAdjust="spacingAndGlyphs">h</text>
<rect x="333.2" y="797.6" width="27.8" height="1.7" fill="#000"/>
<rect x="333.2" y="807.3" width="27.8" height="1.7" fill="#000"/>
<text x="374" y="814.1" font-size="41.7" textLength="81.8" lengthAdjust="spacingAndGlyphs">1000</text>
<text x="469.3" y="814.1" font-size="41.7">km</text>
<text x="296.3" y="872" font-size="41.7" font-style="italic" textLength="23.5" lengthAdjust="spacingAndGlyphs">h</text>
<rect x="333.2" y="855.5" width="27.8" height="1.7" fill="#000"/>
<rect x="333.2" y="865.2" width="27.8" height="1.7" fill="#000"/>
<text x="374" y="872" font-size="41.7" textLength="81.8" lengthAdjust="spacingAndGlyphs">2000</text>
<text x="469.3" y="872" font-size="41.7">km</text>
<text x="296.3" y="930" font-size="41.7" font-style="italic" textLength="23.5" lengthAdjust="spacingAndGlyphs">h</text>
<rect x="333.2" y="913.5" width="27.8" height="1.7" fill="#000"/>
<rect x="333.2" y="923.2" width="27.8" height="1.7" fill="#000"/>
<text x="374" y="930" font-size="41.7" textLength="81.8" lengthAdjust="spacingAndGlyphs">4000</text>
<text x="469.3" y="930" font-size="41.7">km</text>
<text x="725.5" y="756.2" font-size="41.7" font-style="italic" textLength="38.5" lengthAdjust="spacingAndGlyphs">M</text>
<rect x="780.5" y="739.7" width="27.8" height="1.7" fill="#000"/>
<rect x="780.5" y="749.4" width="27.8" height="1.7" fill="#000"/>
<text x="821" y="756.2" font-size="41.7">10</text>
<text x="725.5" y="814.1" font-size="41.7" font-style="italic" textLength="38.5" lengthAdjust="spacingAndGlyphs">M</text>
<rect x="780.5" y="797.6" width="27.8" height="1.7" fill="#000"/>
<rect x="780.5" y="807.3" width="27.8" height="1.7" fill="#000"/>
<text x="821" y="814.1" font-size="41.7">20</text>
<text x="725.5" y="872" font-size="41.7" font-style="italic" textLength="38.5" lengthAdjust="spacingAndGlyphs">M</text>
<rect x="780.5" y="855.5" width="27.8" height="1.7" fill="#000"/>
<rect x="780.5" y="865.2" width="27.8" height="1.7" fill="#000"/>
<text x="821" y="872" font-size="41.7">50</text>
</g>
</svg></body></html>
